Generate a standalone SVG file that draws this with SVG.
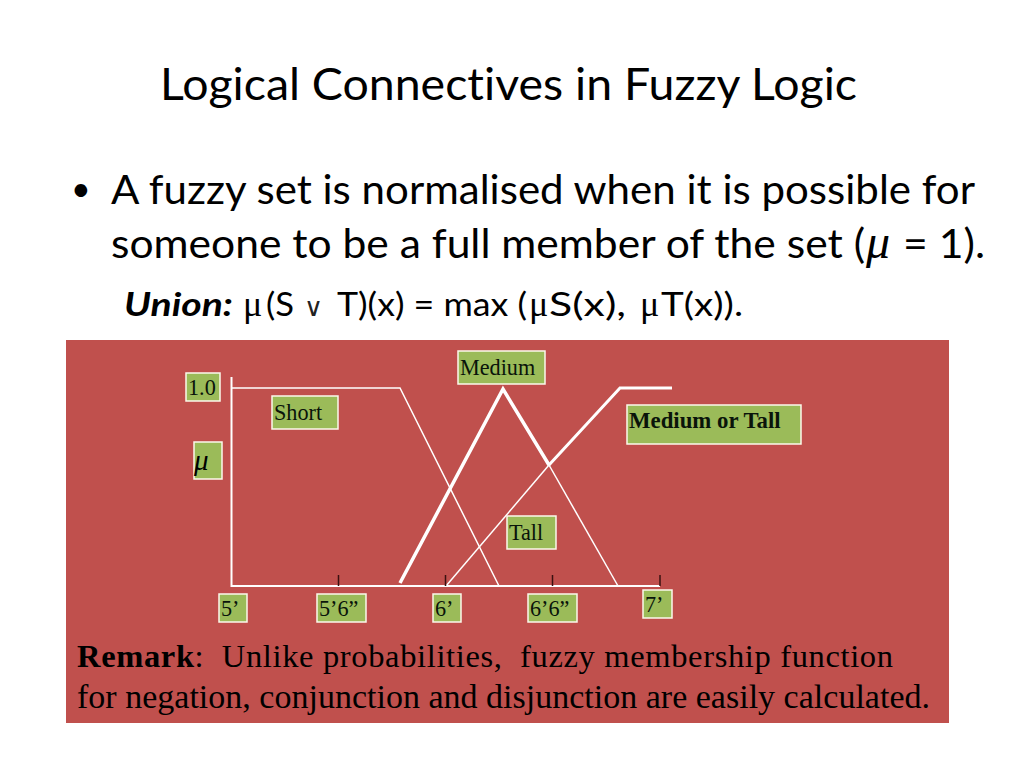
<svg xmlns="http://www.w3.org/2000/svg" width="1024" height="768" viewBox="0 0 1024 768">
<style>
.h{font-family:Lato,"Liberation Sans",sans-serif;fill:#000;font-variant-ligatures:none}
.s{font-family:"Liberation Serif",serif;fill:#000}
.b{fill:#9bbb59;stroke:#fbf9ec;stroke-width:1.5}
.l{font-family:"Liberation Serif",serif;font-size:22.200px;fill:#0a140a}
.w{fill:none;stroke:#fff;stroke-linejoin:miter}
.t{stroke:#3a1010;stroke-width:1.500}
</style>
<rect width="1024" height="768" fill="#fff"/>
<text class="h" x="160" y="100" font-size="44" textLength="697" lengthAdjust="spacingAndGlyphs">Logical Connectives in Fuzzy Logic</text>
<text class="h" x="71" y="201" font-size="34">•</text>
<text class="h" x="111" y="204" font-size="40" textLength="864" lengthAdjust="spacingAndGlyphs">A fuzzy set is normalised when it is possible for</text>
<text class="h" x="111" y="258" font-size="40" textLength="754" lengthAdjust="spacingAndGlyphs">someone to be a full member of the set (</text>
<text class="s" x="866" y="258" font-size="48" font-style="italic">μ</text>
<text class="h" x="903" y="258" font-size="40" textLength="82" lengthAdjust="spacingAndGlyphs">= 1).</text>
<text class="h" x="124" y="316" font-size="32" font-weight="700" font-style="italic" textLength="109" lengthAdjust="spacingAndGlyphs">Union:</text>
<text class="s" x="243" y="316" font-size="36">μ</text>
<text class="h" x="266" y="316" font-size="32" textLength="28" lengthAdjust="spacingAndGlyphs">(S</text>
<text x="304" y="316" font-size="26" font-family="'DejaVu Sans',sans-serif" font-weight="200" fill="#222">∨</text>
<text class="h" x="337" y="316" font-size="32" textLength="190" lengthAdjust="spacingAndGlyphs">T)(x) = max (</text>
<text class="s" x="529" y="316" font-size="36">μ</text>
<text class="h" x="549" y="316" font-size="32" textLength="77" lengthAdjust="spacingAndGlyphs">S(x),</text>
<text class="s" x="640" y="316" font-size="36">μ</text>
<text class="h" x="661" y="316" font-size="32" textLength="82" lengthAdjust="spacingAndGlyphs">T(x)).</text>
<rect id="panel" x="66" y="340" width="883" height="383" fill="#c0504d"/>
<g id="connectors">
<path class="w" stroke-width="2" d="M231.500 377V586H660"/>
<path class="w" stroke-width="1.500" d="M232 388H400L499 586"/>
<path class="w" stroke-width="1.500" d="M549 465L618 586"/>
<path class="w" stroke-width="1.500" d="M446 586L549 465"/>
<path class="w" stroke-width="3.500" d="M400 583L503 389L549 465"/>
<path class="w" stroke-width="3" d="M549 465L620 388H672"/>
<path class="t" d="M338.500 575V586M445.500 575V586M552.500 575V586M660 575V586"/>
</g>
<g id="n-10"><rect class="b" x="186" y="373" width="34" height="28"/><text class="l" x="188" y="395">1.0</text></g>
<g id="n-short"><rect class="b" x="272" y="396" width="66" height="33"/><text class="l" x="274" y="420">Short</text></g>
<g id="n-mu"><rect class="b" x="194" y="442" width="28" height="37"/><text class="s" x="194" y="470" font-size="29" font-style="italic" fill="#0a140a">μ</text></g>
<g id="n-medium"><rect class="b" x="458" y="351" width="87" height="33"/><text class="l" x="460" y="375">Medium</text></g>
<g id="n-mt"><rect class="b" x="627" y="405" width="174" height="39"/><text class="l" x="629" y="428" font-weight="700" style="font-size:22.800px">Medium or Tall</text></g>
<g id="n-tall"><rect class="b" x="507" y="516" width="49" height="33"/><text class="l" x="509" y="540">Tall</text></g>
<g id="n-5"><rect class="b" x="219" y="594" width="28" height="28"/><text class="l" x="221" y="616">5’</text></g>
<g id="n-56"><rect class="b" x="317" y="594" width="49" height="28"/><text class="l" x="319" y="616">5’6”</text></g>
<g id="n-6"><rect class="b" x="433" y="594" width="28" height="28"/><text class="l" x="435" y="616">6’</text></g>
<g id="n-66"><rect class="b" x="528" y="594" width="49" height="28"/><text class="l" x="530" y="616">6’6”</text></g>
<g id="n-7"><rect class="b" x="643" y="590" width="29" height="28"/><text class="l" x="645" y="612">7’</text></g>
<g id="remark">
<text class="s" x="77" y="667" font-size="32.500" textLength="816" lengthAdjust="spacing"><tspan font-weight="700">Remark</tspan>:&#160; Unlike probabilities,&#160; fuzzy membership function</text>
<text class="s" x="77" y="708" font-size="34" textLength="853" lengthAdjust="spacing">for negation, conjunction and disjunction are easily calculated.</text>
</g>
</svg>
